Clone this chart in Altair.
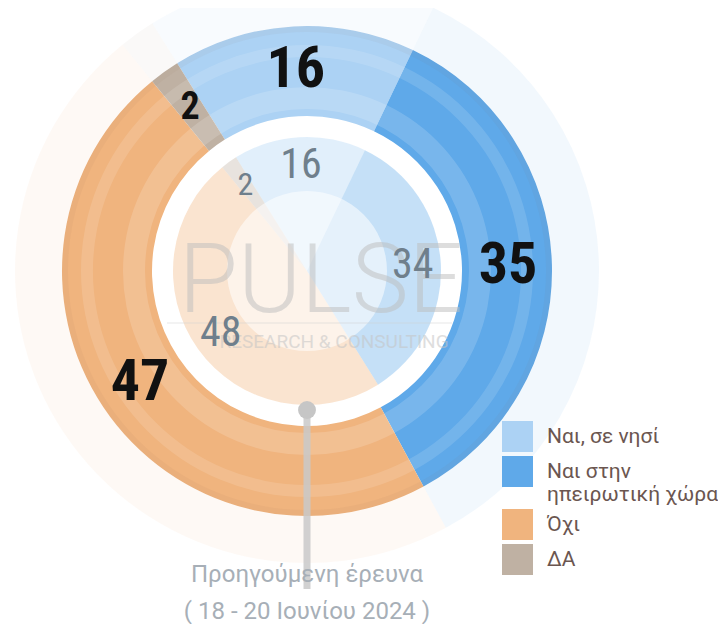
import math
import altair as alt
import pandas as pd

# ---- data ----
categories = ["Ναι, σε νησί", "Ναι στην ηπειρωτική χώρα", "Όχι", "ΔΑ"]
current_values = [16, 35, 47, 2]
previous_values = [16, 34, 48, 2]
colors = ["#acd2f4", "#5fa9e9", "#f0b47e", "#bfb1a3"]
prev_label = "Προηγούμενη έρευνα"
prev_dates = "( 18 - 20 Ιουνίου 2024 )"

W, H = 598, 526
CX, CY = W / 2, H / 2
start = -32 * math.pi / 180
TWO_PI = 2 * math.pi

cur = pd.DataFrame({"cat": categories, "value": current_values, "idx": list(range(len(categories)))})
prev = pd.DataFrame({"cat": categories, "value": previous_values, "idx": list(range(len(categories)))})
one = pd.DataFrame({"k": [0]})

theta_scale = alt.Scale(domain=[0, 100], range=[start, start + TWO_PI])
color_scale = alt.Scale(domain=categories, range=colors)

theta = alt.Theta("value:Q", stack=True, scale=theta_scale)
order = alt.Order("idx:Q")

legend = alt.Legend(
    title=None, orient="none", legendX=494, legendY=413,
    symbolType="square", symbolSize=961, symbolStrokeWidth=0, symbolOpacity=1,
    labelFont="Roboto", labelFontSize=21, labelColor="#6b5650", labelOffset=14,
    labelLimit=400, rowPadding=4,
    labelExpr="datum.label == 'Ναι στην ηπειρωτική χώρα' ? ['Ναι στην', 'ηπειρωτική χώρα'] : datum.label",
)

def ring(data, r_out, r_in, opacity, show_legend=False):
    return alt.Chart(data).mark_arc(radius=r_out, radius2=r_in, opacity=opacity).encode(
        theta=theta, order=order,
        color=alt.Color("cat:N", scale=color_scale, legend=legend if show_legend else None),
    )

def band(r_out, r_in, color, opacity):
    return alt.Chart(one).mark_arc(theta=0, theta2=TWO_PI, radius=r_out, radius2=r_in, opacity=opacity).encode(
        color=alt.value(color)
    )

faint = ring(cur, 292, 245, 0.08)
outer = ring(cur, 245, 155, 1.0, show_legend=True)
shade1 = band(226, 214, "white", 0.13)
shade2 = band(184, 162, "white", 0.16)
shade3 = band(245, 239, "#8a6a50", 0.05)
inner = ring(prev, 134, 0, 0.36)
inner_core = band(80, 0, "white", 0.55)

wm1 = alt.Chart(one).mark_text(
    text="PULSE", font="Roboto", fontWeight=300, fontSize=96,
    color="#bdbdbd", opacity=0.5, align="center", baseline="alphabetic",
).encode(x=alt.value(CX + 14), y=alt.value(CY + 41))
wm_line = alt.Chart(one).mark_rule(color="#cfcfcf", strokeWidth=1, opacity=0.5).encode(
    x=alt.value(CX - 140), x2=alt.value(CX + 145), y=alt.value(CY + 52)
)
wm2 = alt.Chart(one).mark_text(
    text="RESEARCH & CONSULTING", font="Roboto", fontSize=19,
    color="#c4c4c4", opacity=0.55, align="center", baseline="middle",
).encode(x=alt.value(CX + 27), y=alt.value(CY + 71))

stem = alt.Chart(one).mark_rule(color="#c9c9c9", strokeWidth=7, opacity=0.85).encode(
    x=alt.value(CX), y=alt.value(CY + 139), y2=alt.value(CY + 318)
)
dot = alt.Chart(one).mark_point(filled=True, shape="circle", size=320, color="#c6c6c6", opacity=1).encode(
    x=alt.value(CX), y=alt.value(CY + 139)
)

outer_labels = alt.Chart(cur).mark_text(
    radius=201, font="Liberation Sans Narrow, Roboto Condensed, DejaVu Sans Condensed, sans-serif",
    fontWeight="bold", color="#111111", align="center", baseline="middle",
).encode(
    theta=theta, order=order, text="value:Q",
    size=alt.condition(alt.datum.value < 5, alt.value(38), alt.value(58)),
)
inner_labels = alt.Chart(prev).mark_text(
    radius=106, font="Liberation Sans Narrow, Roboto Condensed, DejaVu Sans Condensed, sans-serif",
    color="#6f7f8c", align="center", baseline="middle",
).encode(
    theta=theta, order=order, text="value:Q",
    size=alt.condition(alt.datum.value < 5, alt.value(32), alt.value(42)),
)

t1 = alt.Chart(one).mark_text(
    text=prev_label, font="Roboto", fontSize=24, color="#a7afb7", align="center", baseline="middle"
).encode(x=alt.value(CX), y=alt.value(CY + 304))
t2 = alt.Chart(one).mark_text(
    text=prev_dates, font="Roboto", fontSize=24, color="#a7afb7", align="center", baseline="middle"
).encode(x=alt.value(CX), y=alt.value(CY + 341))

chart = alt.layer(
    faint, outer, shade1, shade2, shade3, inner, inner_core,
    wm1, wm_line, wm2, stem, dot, outer_labels, inner_labels, t1, t2,
).resolve_legend(color="independent").properties(
    width=W, height=H,
    autosize=alt.AutoSizeParams(type="none"),
    padding={"left": 0, "top": 0, "right": 112, "bottom": 90},
).configure_view(stroke=None)

chart.save("out.html", embed_options={"renderer": "svg", "actions": False})
